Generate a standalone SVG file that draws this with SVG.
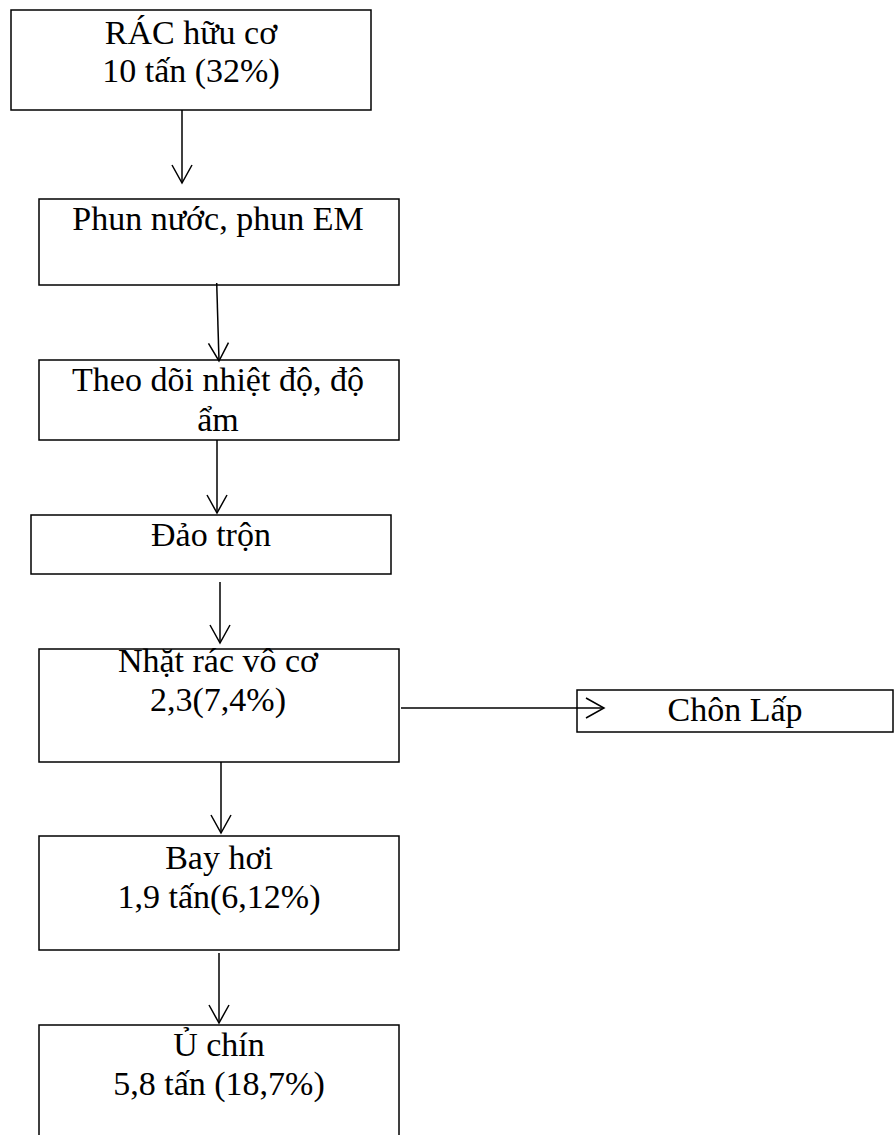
<svg xmlns="http://www.w3.org/2000/svg" width="894" height="1135" viewBox="0 0 894 1135">
  <style>
    .box { fill: none; stroke: #000000; stroke-width: 1.5; }
    .lbl { font-family: "Liberation Serif", "Times New Roman", serif; font-size: 34px; fill: #000000; text-anchor: middle; }
    .link { fill: none; stroke: #000000; stroke-width: 1.5; marker-end: url(#vhead); }
  </style>
  <defs>
    <marker id="vhead" markerUnits="userSpaceOnUse" markerWidth="22" markerHeight="24" viewBox="0 0 22 24" refX="19" refY="12" orient="auto">
      <path d="M1,2 L19,12 L1,22" fill="none" stroke="#000000" stroke-width="1.5"/>
    </marker>
  </defs>
  <rect width="894" height="1135" fill="#ffffff"/>

  <g id="rac-huu-co">
    <rect class="box" x="11" y="10" width="360" height="100"/>
    <text class="lbl" x="191" y="44">RÁC hữu cơ</text>
    <text class="lbl" x="191" y="82">10 tấn (32%)</text>
  </g>

  <g id="phun-nuoc">
    <rect class="box" x="39" y="199" width="360" height="86"/>
    <text class="lbl" x="218" y="230">Phun nước, phun EM</text>
  </g>

  <g id="theo-doi">
    <rect class="box" x="39" y="360" width="360" height="80"/>
    <text class="lbl" x="218" y="391">Theo dõi nhiệt độ, độ</text>
    <text class="lbl" x="218" y="431">ẩm</text>
  </g>

  <g id="dao-tron">
    <rect class="box" x="31" y="515" width="360" height="59"/>
    <text class="lbl" x="211" y="546">Đảo trộn</text>
  </g>

  <g id="nhat-rac">
    <rect class="box" x="39" y="649" width="360" height="113"/>
    <text class="lbl" x="218" y="672">Nhặt rác vô cơ</text>
    <text class="lbl" x="218" y="711">2,3(7,4%)</text>
  </g>

  <g id="chon-lap">
    <rect class="box" x="577" y="690" width="316" height="42"/>
    <text class="lbl" x="735" y="721">Chôn Lấp</text>
  </g>

  <g id="bay-hoi">
    <rect class="box" x="39" y="836" width="360" height="114"/>
    <text class="lbl" x="219" y="869">Bay hơi</text>
    <text class="lbl" x="219" y="908">1,9 tấn(6,12%)</text>
  </g>

  <g id="u-chin">
    <rect class="box" x="39" y="1025" width="360" height="130"/>
    <text class="lbl" x="219" y="1056">Ủ chín</text>
    <text class="lbl" x="219" y="1095">5,8 tấn (18,7%)</text>
  </g>

  <g id="connectors">
    <path class="link" d="M182,110 L182,183"/>
    <path class="link" d="M216.7,283 L219,361"/>
    <path class="link" d="M217,440 L217,513"/>
    <path class="link" d="M220,582 L220,643"/>
    <path class="link" d="M401,708 L604,708"/>
    <path class="link" d="M221,762 L221,833"/>
    <path class="link" d="M219,953 L219,1023"/>
  </g>
</svg>
